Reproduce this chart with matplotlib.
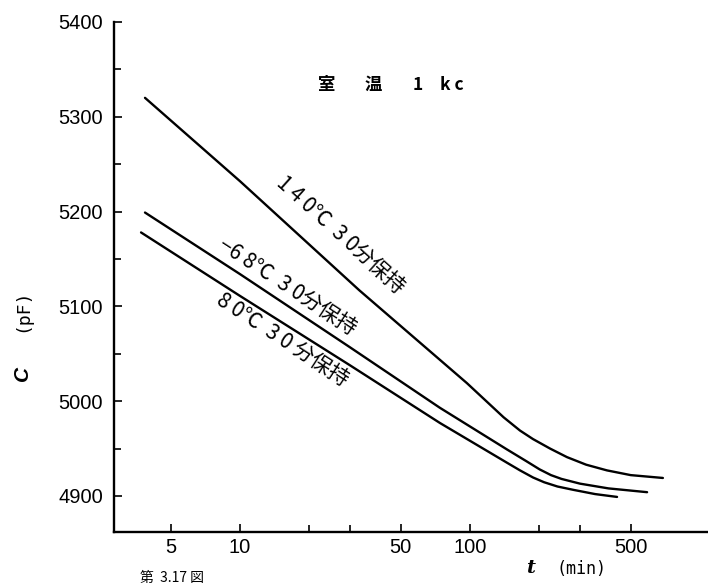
import numpy as np
import matplotlib
matplotlib.use('Agg')
import matplotlib.pyplot as plt
from matplotlib.ticker import FixedLocator, NullFormatter

# values (t in min, C in pF)
t_140 = [3.86, 10, 33, 97, 140, 165, 188, 223, 264, 320, 394, 500, 690]
c_140 = [5320, 5232, 5117, 5019, 4983, 4969, 4960, 4950, 4941, 4933, 4927, 4922, 4919]

t_m68 = [3.86, 10, 30, 74, 145, 175, 201, 225, 250, 301, 400, 589]
c_m68 = [5199, 5134, 5057, 4993, 4949, 4937, 4928, 4922, 4918, 4913, 4908, 4904]

t_80 = [3.71, 10, 30, 74, 145, 165, 188, 210, 240, 281, 350, 436]
c_80 = [5178, 5111, 5038, 4977, 4935, 4927, 4919.5, 4914.5, 4910, 4906.5, 4902, 4899]

x_major = [5, 10, 50, 100, 500]
x_minor = [20, 30, 200, 300]
y_major = [4900, 5000, 5100, 5200, 5300, 5400]
y_minor = [4950, 5050, 5150, 5250, 5350]

num_font = ['Liberation Sans Narrow', 'Liberation Sans', 'DejaVu Sans']
jp_font = ['Noto Sans CJK JP', 'DejaVu Sans']

W, H = 708, 586
fig = plt.figure(figsize=(W / 100, H / 100), dpi=100)
# axes placed in pixels: left 114, top 22, bottom 532, right edge
ax = fig.add_axes([114 / W, (H - 532) / H, (W - 114) / W, (532 - 22) / H])

for t, c in [(t_140, c_140), (t_m68, c_m68), (t_80, c_80)]:
    ax.plot(t, c, color='black', lw=1.7, solid_capstyle='round',
            solid_joinstyle='round')

ax.set_xscale('log')
ax.set_xlim(2.83, 1084)
ax.set_ylim(4862, 5400)

for s in ['top', 'right']:
    ax.spines[s].set_visible(False)
for s in ['left', 'bottom']:
    ax.spines[s].set_linewidth(1.7)

ax.xaxis.set_major_locator(FixedLocator(x_major))
ax.xaxis.set_minor_locator(FixedLocator(x_minor))
ax.xaxis.set_minor_formatter(NullFormatter())
ax.set_xticklabels([str(v) for v in x_major])
ax.yaxis.set_major_locator(FixedLocator(y_major))
ax.yaxis.set_minor_locator(FixedLocator(y_minor))
ax.set_yticklabels([str(v) for v in y_major])

ax.tick_params(axis='both', which='both', direction='in', width=1.2)
ax.tick_params(axis='both', which='major', length=6)
ax.tick_params(axis='both', which='minor', length=5)
ax.tick_params(axis='y', which='major', pad=8)
ax.tick_params(axis='x', which='major', pad=4)
for lab in ax.get_xticklabels() + ax.get_yticklabels():
    lab.set_fontfamily(num_font)
    lab.set_fontsize(14.5)


def px(x, y):
    return x / W, 1 - y / H


# curve labels, rotated along the lines
fig.text(*px(340, 235), '1 4 0℃  3 0分保持', rotation=-42, rotation_mode='anchor',
         ha='center', va='center', fontsize=15, family=jp_font)
fig.text(*px(287, 287), '−6 8℃  3 0分保持', rotation=-33, rotation_mode='anchor',
         ha='center', va='center', fontsize=15, family=jp_font)
fig.text(*px(282, 340), '8 0℃  3 0 分保持', rotation=-33, rotation_mode='anchor',
         ha='center', va='center', fontsize=15, family=jp_font)

# title, spaced out as in the print
for xx, s in [(327, '室'), (373, '温'), (418, '1'), (452, 'k c')]:
    fig.text(*px(xx, 85), s, ha='center', va='center',
             fontsize=12.5, family=jp_font, fontweight='bold')

# axis labels
fig.text(*px(22, 373), 'C', rotation=90, ha='center', va='center',
         fontsize=15, fontstyle='italic', fontweight='bold', family=num_font)
fig.text(*px(22, 310), '(pF)', rotation=90, ha='center', va='center',
         fontsize=13, family='DejaVu Sans Mono')
fig.text(*px(531, 568), 't', ha='center', va='center',
         fontsize=14, fontstyle='italic', fontweight='bold', family='DejaVu Serif')
fig.text(*px(582, 569), '(min)', ha='center', va='center',
         fontsize=12, family='DejaVu Sans Mono')

# caption at the page edge
fig.text(*px(140, 578), '第  3.17 図', ha='left', va='center',
         fontsize=10, family=jp_font)

fig.savefig('out.png', dpi=100)
